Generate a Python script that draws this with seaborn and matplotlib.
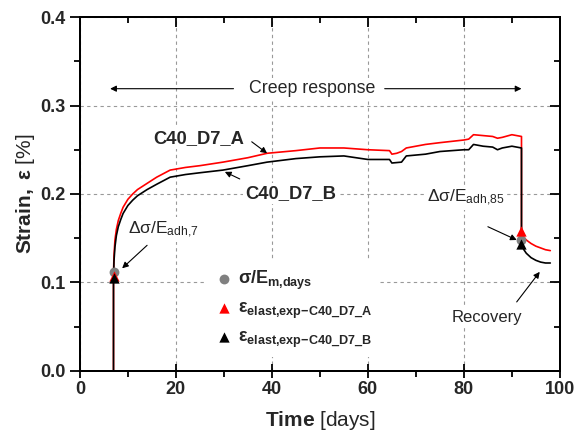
import matplotlib
matplotlib.use('Agg')
import matplotlib.pyplot as plt
import seaborn as sns
import pandas as pd

# Creep test C40_D7, strain [%] vs time [days]
time_a = [7, 7, 7.1, 7.3, 7.6, 8, 8.5, 9, 10, 11, 12, 14, 16, 18.8, 22, 25, 29.8, 35,
          39, 45, 50, 55, 60, 64.5, 65, 66, 67, 68, 72, 75, 80, 81, 82, 84, 86, 87,
          88, 90, 91, 92,
          92, 92.5, 93, 94, 95, 96, 97, 98]
strain_a = [0.0, 0.11, 0.13, 0.148, 0.16, 0.17, 0.178, 0.185, 0.194, 0.2, 0.205,
            0.212, 0.219, 0.227, 0.23, 0.232, 0.236, 0.241, 0.246, 0.249, 0.252,
            0.252, 0.250, 0.249, 0.245, 0.246, 0.248, 0.252, 0.256, 0.258, 0.261,
            0.262, 0.267, 0.266, 0.265, 0.263, 0.264, 0.267, 0.266, 0.265,
            0.158, 0.151, 0.148, 0.144, 0.141, 0.139, 0.137, 0.136]

time_b = [7, 7, 7.1, 7.3, 7.6, 8, 8.5, 9, 10, 11, 12, 14, 16, 18.8, 22, 25, 29.8, 35,
          39, 45, 50, 55, 60, 64.5, 65, 67, 68, 72, 75, 80, 81, 82, 84, 86, 87, 88,
          90, 92,
          92, 92.5, 93, 94, 95, 96, 97, 98]
strain_b = [0.0, 0.105, 0.124, 0.14, 0.153, 0.163, 0.171, 0.178, 0.187, 0.193, 0.198,
            0.205, 0.211, 0.219, 0.222, 0.224, 0.227, 0.232, 0.236, 0.240, 0.242,
            0.243, 0.239, 0.239, 0.235, 0.236, 0.243, 0.245, 0.248, 0.250, 0.250,
            0.256, 0.254, 0.253, 0.250, 0.252, 0.254, 0.252,
            0.143, 0.137, 0.133, 0.128, 0.125, 0.123, 0.122, 0.122]

# markers at loading (day 7) and unloading (day 92)
marker_time = [7, 92]
sigma_e = [0.112, 0.148]
elast_a = [0.107, 0.158]
elast_b = [0.105, 0.143]

x_major = [0, 20, 40, 60, 80, 100]
x_minor = [10, 30, 50, 70, 90]
y_major = [0.0, 0.1, 0.2, 0.3, 0.4]
y_minor = [0.05, 0.15, 0.25, 0.35]

sns.set_style('ticks')
plt.rcParams['font.family'] = ['Liberation Sans', 'DejaVu Sans']
plt.rcParams['mathtext.fontset'] = 'custom'
plt.rcParams['mathtext.rm'] = 'Liberation Sans'
plt.rcParams['mathtext.bf'] = 'Liberation Sans:bold'
plt.rcParams['mathtext.it'] = 'Liberation Sans:italic'
plt.rcParams['mathtext.sf'] = 'Liberation Sans'

fig = plt.figure(figsize=(5.79, 4.48), dpi=100)
ax = fig.add_axes([0.138, 0.172, 0.829, 0.79])

df_a = pd.DataFrame({'t': time_a, 's': strain_a})
df_b = pd.DataFrame({'t': time_b, 's': strain_b})
sns.lineplot(data=df_a, x='t', y='s', sort=False, estimator=None, color='red', lw=1.2, ax=ax, zorder=2)
sns.lineplot(data=df_b, x='t', y='s', sort=False, estimator=None, color='black', lw=1.2, ax=ax, zorder=2.1)

h1 = ax.scatter(marker_time, sigma_e, marker='o', s=50, color='#808080', zorder=3, linewidths=0)
h2 = ax.scatter(marker_time, elast_a, marker='^', s=55, color='red', zorder=3.1, linewidths=0)
h3 = ax.scatter(marker_time, elast_b, marker='^', s=55, color='black', zorder=3.2, linewidths=0)

ax.set_xlim(0, 100)
ax.set_ylim(0, 0.4)
ax.set_xticks(x_major)
ax.set_xticks(x_minor, minor=True)
ax.set_yticks(y_major)
ax.set_yticks(y_minor, minor=True)
ax.set_yticklabels(['0.0', '0.1', '0.2', '0.3', '0.4'])
ax.tick_params(which='both', direction='out', width=1.3, labelsize=13, color='black')
ax.tick_params(which='major', length=7)
ax.tick_params(which='minor', length=4)
ax.tick_params(axis='x', which='major', direction='inout', length=10, pad=2)
for lab in ax.get_xticklabels() + ax.get_yticklabels():
    lab.set_fontweight('bold')

# mirrored ticks on top/right pointing inward
axt = ax.twiny()
axt.set_xlim(0, 100)
axt.set_xticks(x_major)
axt.set_xticks(x_minor, minor=True)
axt.tick_params(which='both', direction='in', top=True, labeltop=False, width=1.3, color='black')
axt.tick_params(which='major', length=7)
axt.tick_params(which='minor', length=4)
axr = ax.twinx()
axr.set_ylim(0, 0.4)
axr.set_yticks(y_major)
axr.set_yticks(y_minor, minor=True)
axr.tick_params(which='both', direction='in', right=True, labelright=False, width=1.3, color='black')
axr.tick_params(which='major', length=7)
axr.tick_params(which='minor', length=4)
for a in (ax, axt, axr):
    for sp in a.spines.values():
        sp.set_linewidth(1.3)
        sp.set_color('black')

ax.set_axisbelow(True)
ax.grid(True, which='major', linestyle=(0, (3, 3)), color='#999999', lw=0.8)

ax.set_xlabel(r'$\mathbf{Time}$ [days]', fontsize=15, labelpad=8)
ax.set_ylabel(r'$\mathbf{Strain,\ ε}$ [%]', fontsize=15, labelpad=2)

box = dict(facecolor='white', edgecolor='none', pad=1.5)
arrow = dict(arrowstyle='-|>', color='black', lw=0.8, mutation_scale=9, shrinkA=0, shrinkB=0)

ax.text(48.3, 0.319, 'Creep response', fontsize=12.8, ha='center', va='center', bbox=box)
ax.annotate('', xy=(6.3, 0.319), xytext=(32, 0.319), arrowprops=arrow)
ax.annotate('', xy=(92, 0.319), xytext=(63.5, 0.319), arrowprops=arrow)

ax.text(15.2, 0.263, 'C40_D7_A', fontsize=13.2, fontweight='bold', ha='left', va='center', bbox=box)
ax.annotate('', xy=(39, 0.246), xytext=(35.8, 0.259), arrowprops=arrow)
ax.text(34.4, 0.201, 'C40_D7_B', fontsize=13.2, fontweight='bold', ha='left', va='center', bbox=box)
ax.annotate('', xy=(30.2, 0.225), xytext=(33.3, 0.217), arrowprops=arrow)

ax.text(10, 0.16, r'Δσ/E$_{\mathrm{adh{,}7}}$', fontsize=12.5, ha='left', va='center', bbox=box)
ax.annotate('', xy=(8.8, 0.116), xytext=(14, 0.142), arrowprops=arrow)
ax.text(72.3, 0.196, r'Δσ/E$_{\mathrm{adh{,}85}}$', fontsize=12.5, ha='left', va='center', bbox=box)
ax.annotate('', xy=(91, 0.148), xytext=(85, 0.163), arrowprops=arrow)
ax.text(84.8, 0.06, 'Recovery', fontsize=12, ha='center', va='center', bbox=box)
ax.annotate('', xy=(95.8, 0.112), xytext=(91, 0.078), arrowprops=arrow)

leg = ax.legend([h1, h2, h3],
                [r'σ/E$_{\mathbf{m{,}days}}$',
                 r'ε$_{\mathbf{elast{,}exp{-}C40\_D7\_A}}$',
                 r'ε$_{\mathbf{elast{,}exp{-}C40\_D7\_B}}$'],
                loc='upper left', bbox_to_anchor=(0.245, 0.335), frameon=True,
                prop={'weight': 'bold', 'size': 13}, handletextpad=0.25,
                labelspacing=0.45, handlelength=1.1, borderpad=0.4)
leg.get_frame().set_facecolor('white')
leg.get_frame().set_edgecolor('none')
leg.get_frame().set_alpha(1)

fig.savefig('out.png', dpi=100)
